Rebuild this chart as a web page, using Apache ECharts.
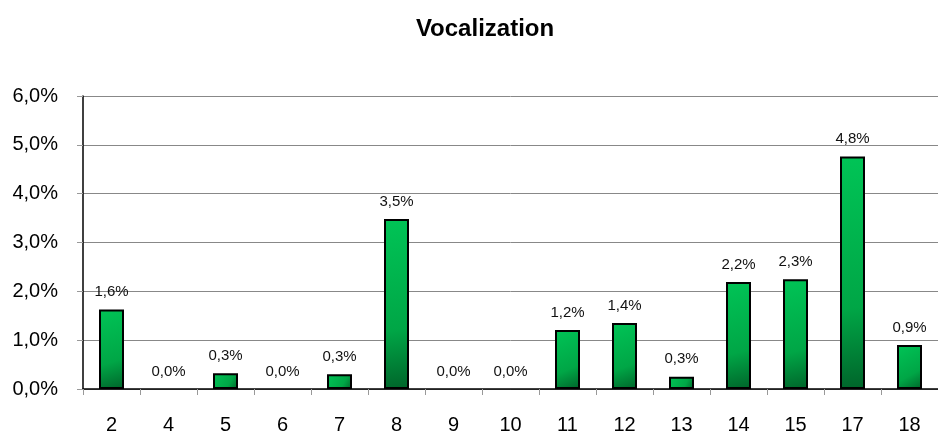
<!DOCTYPE html>
<html>
<head>
<meta charset="utf-8">
<script src="https://cdn.jsdelivr.net/npm/echarts@6/dist/echarts.min.js"></script>
<style>
  html, body { margin: 0; padding: 0; background: #fff; }
  #chart { width: 938px; height: 435px; }
</style>
</head>
<body>
<div id="chart"></div>
<script>
// Share of vocalization per session (percent)
const categories = ['2', '4', '5', '6', '7', '8', '9', '10', '11', '12', '13', '14', '15', '17', '18'];
const values = [1.63, 0, 0.32, 0, 0.30, 3.48, 0, 0, 1.21, 1.35, 0.25, 2.19, 2.25, 4.76, 0.90];
const yTicks = [0, 1, 2, 3, 4, 5, 6];

const FONT = '"Liberation Sans", Arial, sans-serif';
const fmt = v => v.toFixed(1).replace('.', ',') + '%';

// Empty sessions keep their label but get no outline
const barData = values.map(v => (v === 0 ? { value: v, itemStyle: { borderWidth: 0 } } : v));

const chart = echarts.init(document.getElementById('chart'), null, { renderer: 'canvas' });
chart.setOption({
  animation: false,
  backgroundColor: '#ffffff',
  title: {
    text: 'Vocalization',
    left: 480,
    top: 12,
    textAlign: 'center',
    textStyle: { fontFamily: FONT, fontSize: 24, fontWeight: 'bold', color: '#000' }
  },
  grid: { left: 83, right: 0, top: 96, bottom: 46, containLabel: false },
  xAxis: {
    type: 'category',
    data: categories,
    boundaryGap: true,
    axisLine: { show: true, lineStyle: { color: '#000', width: 1.5 } },
    axisTick: { show: true, length: 6, alignWithLabel: false, lineStyle: { color: '#999' } },
    axisLabel: { fontFamily: FONT, fontSize: 20, color: '#000', margin: 26 }
  },
  yAxis: {
    type: 'value',
    min: yTicks[0],
    max: yTicks[yTicks.length - 1],
    interval: 1,
    axisLine: { show: true, lineStyle: { color: '#000', width: 1.5 } },
    axisTick: { show: true, length: 6, lineStyle: { color: '#999' } },
    splitLine: { show: true, lineStyle: { color: '#888', width: 1 } },
    axisLabel: { fontFamily: FONT, fontSize: 20, color: '#000', margin: 25, formatter: v => fmt(v) }
  },
  series: [{
    type: 'bar',
    data: barData,
    barWidth: 25,
    itemStyle: {
      color: new echarts.graphic.LinearGradient(0, 0, 1, 1, [
        { offset: 0, color: '#00c456' },
        { offset: 0.65, color: '#00a646' },
        { offset: 1, color: '#00642a' }
      ]),
      borderColor: '#000',
      borderWidth: 2
    },
    label: {
      show: true,
      position: 'top',
      distance: 10,
      fontFamily: FONT,
      fontSize: 15,
      color: '#111',
      formatter: p => fmt(p.value)
    }
  }]
});
</script>
</body>
</html>
